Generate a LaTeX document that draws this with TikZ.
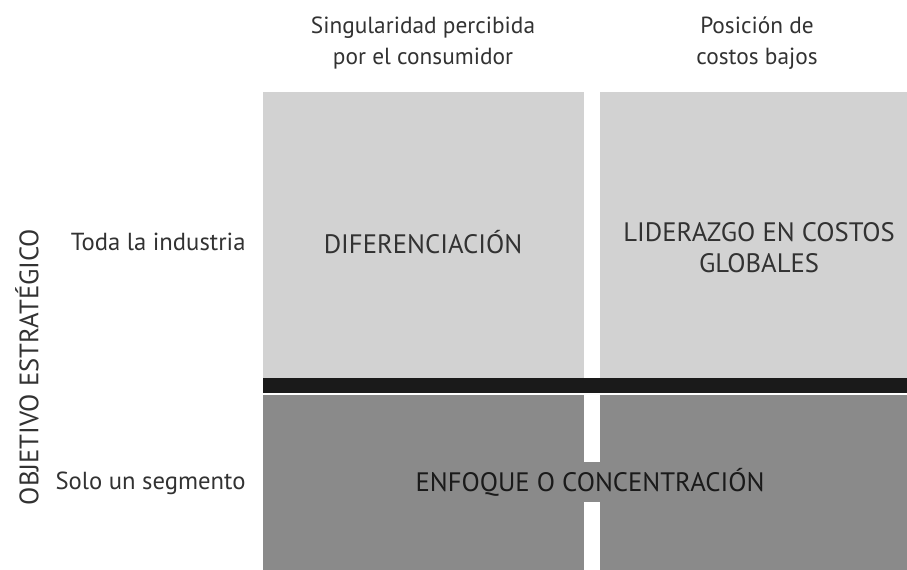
\documentclass[tikz,border=0pt]{standalone}
\usepackage{fontspec}
\setmainfont{PT Sans}
\definecolor{lightcell}{RGB}{210,210,210}
\definecolor{darkcell}{RGB}{138,138,138}
\definecolor{barcol}{RGB}{26,26,26}
\definecolor{textcol}{RGB}{50,50,50}

\tikzset{every picture/.style={line width=0.75pt}}
\tikzset{lbl/.style={inner sep=0.75pt, text=textcol, font=\fontsize{18.5}{23.25}\selectfont, align=center},
  headlbl/.style={lbl, font=\fontsize{17.5}{23.25}\selectfont},
  caplbl/.style={lbl, font=\fontsize{20}{23.25}\selectfont}}

\begin{document}
\begin{tikzpicture}[x=0.75pt,y=0.75pt,yscale=-1,xscale=1]
\useasboundingbox (0,0) rectangle (907,570);

%Shape: Rectangle (upper left)
\fill [lightcell] (263,92) rectangle (584,378);
%Shape: Rectangle (upper right)
\fill [lightcell] (600,92) rectangle (907,378);
%Shape: Rectangle (bar)
\fill [barcol] (263,378) rectangle (907,393);
%Shape: Rectangle (lower left)
\fill [darkcell] (263,395) rectangle (584,570);
%Shape: Rectangle (lower right)
\fill [darkcell] (600,395) rectangle (907,570);

% Text Node
\node [headlbl] (singular) at (423,43) {Singularidad percibida\\por el consumidor};
% Text Node
\node [headlbl] (posicion) at (757,43) {Posición de\\costos bajos};
% Text Node
\node [lbl, anchor=east] (toda) at (247,242) {Toda la industria};
% Text Node
\node [lbl, anchor=east] (solo) at (247,483) {Solo un segmento};
% Text Node
\node [caplbl, rotate=90] (objetivo) at (27,367) {OBJETIVO ESTRATÉGICO};
% Text Node
\node [caplbl] (dif) at (423,242) {DIFERENCIACIÓN};
% Text Node
\node [caplbl] (lid) at (759,248) {LIDERAZGO EN COSTOS\\GLOBALES};
% Text Node
\node [caplbl, fill=darkcell, minimum height=30, text=barcol] (enfoque) at (590,482) {ENFOQUE O CONCENTRACIÓN};

\end{tikzpicture}
\end{document}
